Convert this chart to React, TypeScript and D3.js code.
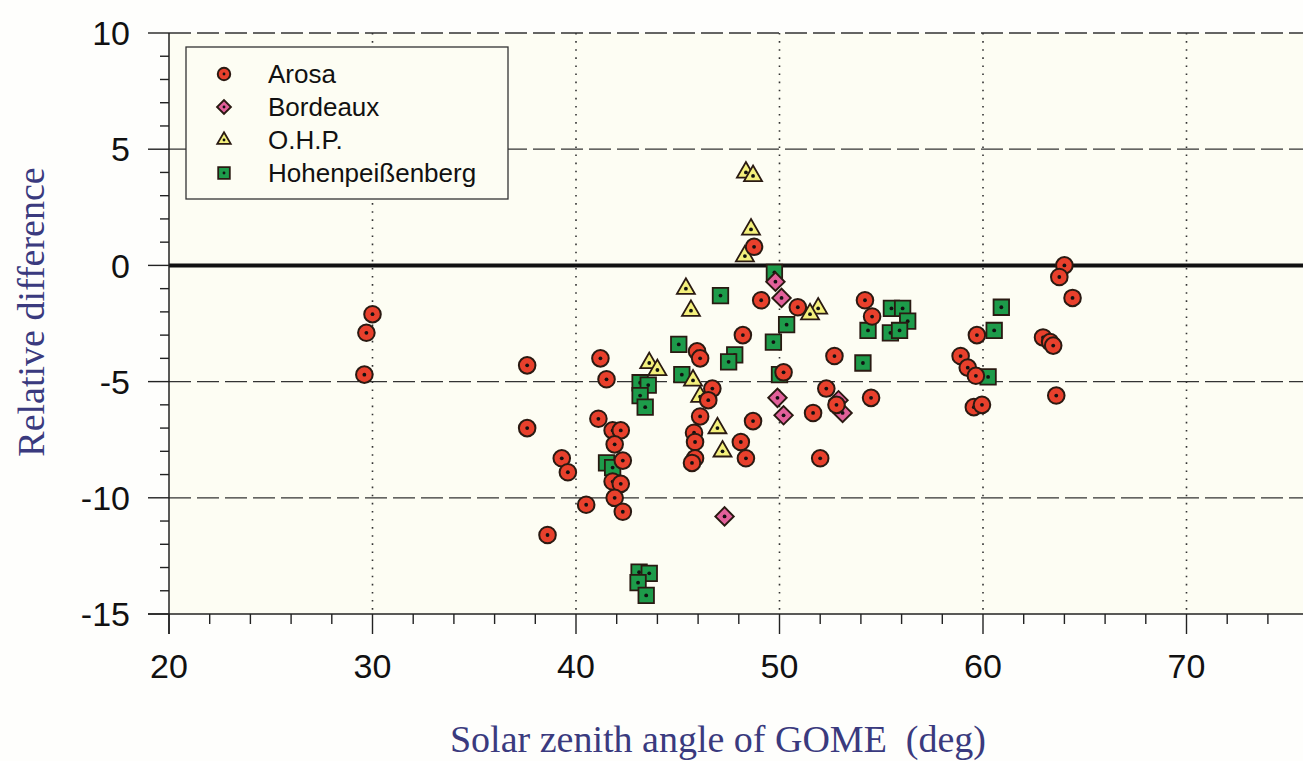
import React from 'react';
import * as d3 from 'd3';

// Relative difference (%) vs. solar zenith angle, per station
const arosa: [number, number][] = [
  [30.0, -2.1], [29.7, -2.9], [29.6, -4.7], [37.6, -4.3], [37.6, -7.0],
  [39.3, -8.3], [39.6, -8.9], [38.6, -11.6], [40.5, -10.3], [41.2, -4.0],
  [41.5, -4.9], [41.1, -6.6], [41.8, -7.1], [42.2, -7.1], [41.9, -7.7],
  [42.3, -8.4], [41.8, -9.3], [42.2, -9.4], [41.9, -10.0], [42.3, -10.6],
  [45.95, -3.7], [46.1, -4.0], [46.7, -5.3], [46.5, -5.8], [46.1, -6.5],
  [45.8, -7.2], [45.85, -7.6], [45.85, -8.3], [45.7, -8.5], [48.1, -7.6],
  [48.35, -8.3], [48.7, -6.7], [48.2, -3.0], [48.75, 0.8], [49.1, -1.5],
  [50.9, -1.8], [52.7, -3.9], [50.2, -4.6], [52.3, -5.3], [52.8, -6.0],
  [51.65, -6.35], [52.0, -8.3], [54.2, -1.5], [54.55, -2.2], [54.5, -5.7],
  [59.7, -3.0], [58.9, -3.9], [59.25, -4.4], [59.65, -4.75], [59.55, -6.1],
  [59.95, -6.0], [62.95, -3.1], [63.3, -3.3], [63.45, -3.45], [63.6, -5.6],
  [64.0, 0.0], [63.75, -0.5], [64.4, -1.4],
];
const bordeaux: [number, number][] = [
  [49.8, -0.7], [50.1, -1.4], [49.9, -5.7], [50.2, -6.45], [52.9, -5.8],
  [53.1, -6.35], [47.3, -10.8],
];
const ohp: [number, number][] = [
  [48.35, 4.0], [48.7, 3.85], [48.6, 1.55], [48.3, 0.4], [45.4, -1.0],
  [45.65, -1.95], [43.6, -4.2], [44.0, -4.5], [45.75, -4.95], [46.1, -5.65],
  [46.95, -7.0], [47.2, -8.0], [51.9, -1.85], [51.5, -2.1],
];
const hohen: [number, number][] = [
  [49.75, -0.3], [47.1, -1.3], [45.05, -3.4], [47.8, -3.85], [47.5, -4.15],
  [45.2, -4.7], [43.15, -5.05], [43.55, -5.15], [43.15, -5.6], [43.4, -6.1],
  [41.5, -8.5], [41.8, -8.7], [43.1, -13.2], [43.6, -13.25], [43.05, -13.65],
  [43.45, -14.2], [50.35, -2.55], [49.7, -3.3], [50.0, -4.7], [54.1, -4.2],
  [55.5, -1.85], [56.05, -1.85], [56.3, -2.4], [54.35, -2.8], [55.45, -2.9],
  [55.9, -2.8], [60.9, -1.8], [60.55, -2.8], [60.25, -4.8],
];

const stations = ['Arosa', 'Bordeaux', 'O.H.P.', 'Hohenpeißenberg'];
const xTicks = [20, 30, 40, 50, 60, 70];
const yTicks = [10, 5, 0, -5, -10, -15];

const W = 1303, H = 761;
const sans = 'Liberation Sans, Arial, sans-serif';
const serif = 'Liberation Serif, Times New Roman, serif';
const ink = '#2a1a12';

const x = d3.scaleLinear().domain([20, 76]).range([169, 169 + 56 * 20.35]);
const y = d3.scaleLinear().domain([-15, 10]).range([614, 33]);

const sq = d3.symbol().type(d3.symbolSquare);
const tri = d3.symbol().type(d3.symbolTriangle);

function Marker({ kind, cx, cy, s = 1 }: { kind: number; cx: number; cy: number; s?: number }) {
  const dot = <circle cx={cx} cy={cy} r={1.9 * s} fill="#111" />;
  if (kind === 0) {
    return <g>
      <circle cx={cx} cy={cy} r={8.3 * s} fill="#e8402c" stroke={ink} strokeWidth={2} />
      {dot}
    </g>;
  }
  if (kind === 1) {
    return <g>
      <path d={sq.size(170 * s * s)() as string} transform={`translate(${cx},${cy}) rotate(45)`}
        fill="#e2609a" stroke={ink} strokeWidth={1.9} />
      {dot}
    </g>;
  }
  if (kind === 2) {
    return <g>
      <path d={tri.size(140 * s * s)() as string} transform={`translate(${cx},${cy})`}
        fill="#f4f07c" stroke={ink} strokeWidth={1.8} />
      {dot}
    </g>;
  }
  return <g>
    <path d={sq.size(240 * s * s)() as string} transform={`translate(${cx},${cy})`}
      fill="#1d9b4a" stroke={ink} strokeWidth={1.8} />
    {dot}
  </g>;
}

export default function App() {
  const series = [hohen, ohp, bordeaux, arosa];
  const kinds = [3, 2, 1, 0];
  const minorX = d3.range(20, 76, 2);
  const minorY = d3.range(-15, 11, 1);
  const right = W;

  return (
    <svg width={W} height={H} style={{ position: 'absolute', left: 0, top: 0, background: '#fefefc' }}>
      <rect x={x(20)} y={y(10)} width={right - x(20)} height={y(-15) - y(10)} fill="#fdfdf3" />

      {/* grid */}
      {xTicks.filter(t => t > 20).map(t => (
        <line key={'gx' + t} x1={x(t)} x2={x(t)} y1={y(10)} y2={y(-15)}
          stroke="#333" strokeWidth={1.6} strokeDasharray="1.6,6.5" />
      ))}
      {[10, 5, -5, -10].map(t => (
        <line key={'gy' + t} x1={x(20)} x2={right} y1={y(t)} y2={y(t)}
          stroke="#333" strokeWidth={1.3} strokeDasharray="22,6" />
      ))}
      <line x1={x(20)} x2={right} y1={y(0)} y2={y(0)} stroke="#111" strokeWidth={4} />

      {/* axes */}
      <line x1={x(20)} x2={x(20)} y1={y(10)} y2={y(-15) + 20} stroke="#222" strokeWidth={1.5} />
      <line x1={148} x2={right} y1={y(-15)} y2={y(-15)} stroke="#222" strokeWidth={1.5} />
      {minorY.map(t => (
        <line key={'my' + t} x1={x(20) - (t % 5 === 0 ? 21 : 9)} x2={x(20)} y1={y(t)} y2={y(t)}
          stroke="#222" strokeWidth={1.4} />
      ))}
      {minorX.map(t => (
        <line key={'mx' + t} x1={x(t)} x2={x(t)} y1={y(-15)} y2={y(-15) + (t % 10 === 0 ? 20 : 10)}
          stroke="#222" strokeWidth={1.4} />
      ))}
      {yTicks.map(t => (
        <text key={'ly' + t} x={130} y={y(t)} dy="0.36em" textAnchor="end"
          fontFamily={sans} fontSize={34} fill="#111">{t}</text>
      ))}
      {xTicks.map(t => (
        <text key={'lx' + t} x={x(t)} y={666} dy="0.36em" textAnchor="middle"
          fontFamily={sans} fontSize={34} fill="#111">{t}</text>
      ))}

      {/* points */}
      {series.map((pts, i) => (
        <g key={'s' + i}>
          {pts.map((p, j) => <Marker key={j} kind={kinds[i]} cx={x(p[0])} cy={y(p[1])} />)}
        </g>
      ))}

      {/* legend */}
      <rect x={186} y={47} width={322} height={152} fill="#fdfdf3" stroke="#333" strokeWidth={1.3} />
      {stations.map((name, i) => (
        <g key={name}>
          <Marker kind={i} cx={224} cy={74 + i * 33} s={0.75} />
          <text x={268} y={74 + i * 33} dy="0.36em" fontFamily={sans} fontSize={26} fill="#111">{name}</text>
        </g>
      ))}

      {/* titles */}
      <text transform={`translate(44,${312}) rotate(-90)`} textAnchor="middle"
        fontFamily={serif} fontSize={38} fill="#3a3a7e">Relative difference</text>
      <text x={718} y={752} textAnchor="middle" fontFamily={serif} fontSize={38}
        fill="#3a3a7e" style={{ whiteSpace: 'pre' }}>Solar zenith angle of GOME  (deg)</text>
    </svg>
  );
}
